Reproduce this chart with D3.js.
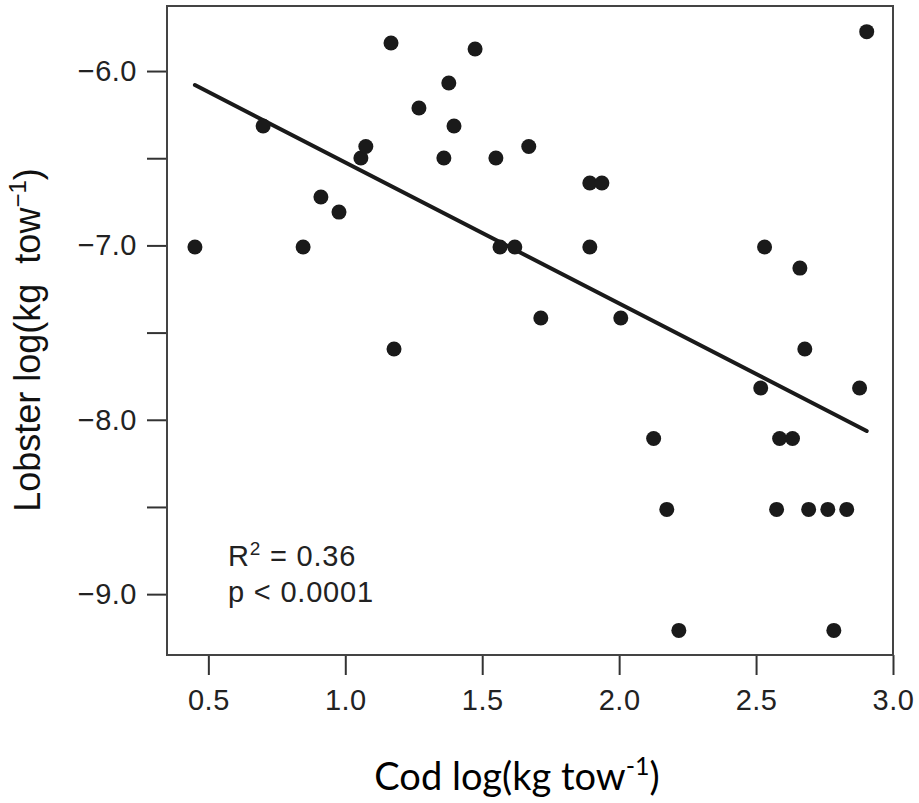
<!DOCTYPE html>
<html>
<head>
<meta charset="utf-8">
<script src="https://cdn.jsdelivr.net/npm/d3@7/dist/d3.min.js"></script>
<style>
  html, body { margin: 0; padding: 0; background: #fff; }
  svg { display: block; }
  .tick text { font-family: "Liberation Sans", Arial, Helvetica, sans-serif; fill: #222; }
</style>
</head>
<body>
<svg id="chart" width="919" height="803"></svg>
<script>
// ---- Data ----
const codLog = [0.451, 0.700, 0.846, 0.911, 0.977, 1.057, 1.075, 1.167, 1.178, 1.269,
                1.360, 1.378, 1.397, 1.474, 1.550, 1.565, 1.619, 1.670, 1.714, 1.893,
                1.893, 1.937, 2.006, 2.126, 2.174, 2.218, 2.517, 2.531, 2.575, 2.586,
                2.633, 2.660, 2.678, 2.692, 2.762, 2.784, 2.831, 2.878, 2.904];
const lobsterLog = [-7.009, -6.315, -7.009, -6.722, -6.809, -6.499, -6.433, -5.839, -7.594, -6.212,
                    -6.499, -6.069, -6.315, -5.874, -6.499, -7.009, -7.009, -6.433, -7.416, -6.642,
                    -7.009, -6.642, -7.416, -8.107, -8.514, -9.208, -7.818, -7.009, -8.514, -8.107,
                    -8.107, -7.130, -7.594, -8.514, -8.514, -9.208, -8.514, -7.818, -5.774];

const fitIntercept = -5.715;
const fitSlope = -0.809;
const fitRange = [0.451, 2.904];

const xTicks = [0.5, 1.0, 1.5, 2.0, 2.5, 3.0];
const yTicks = [-6.0, -6.5, -7.0, -7.5, -8.0, -8.5, -9.0];
const yLabelled = [-6.0, -7.0, -8.0, -9.0];

const statR2 = "0.36";
const statP = "p < 0.0001";

// ---- Layout ----
const svg = d3.select("#chart");
const plot = { left: 167, right: 893, top: 6, bottom: 655 };

const x = d3.scaleLinear().domain([0.349, 3.0]).range([plot.left, plot.right]);
const y = d3.scaleLinear().domain([-9.349, -5.627]).range([plot.bottom, plot.top]);

const fmt = v => (v < 0 ? "\u2212" : "") + Math.abs(v).toFixed(1);

// X axis
const gx = svg.append("g")
  .attr("transform", `translate(0,${plot.bottom})`)
  .call(d3.axisBottom(x).tickValues(xTicks).tickSize(20).tickPadding(14).tickFormat(d => d.toFixed(1)));
gx.select(".domain").remove();
gx.selectAll(".tick line").attr("stroke", "#333").attr("stroke-width", 2);
gx.selectAll(".tick text").attr("font-size", 29).attr("dy", "0.71em").attr("letter-spacing", 0.5);

// Y axis
const gy = svg.append("g")
  .attr("transform", `translate(${plot.left},0)`)
  .call(d3.axisLeft(y).tickValues(yTicks).tickSize(20).tickPadding(10)
        .tickFormat(d => yLabelled.includes(d) ? fmt(d) : ""));
gy.select(".domain").remove();
gy.selectAll(".tick line").attr("stroke", "#333").attr("stroke-width", 2);
gy.selectAll(".tick text").attr("font-size", 29).attr("letter-spacing", 0.5);

// Frame
svg.append("rect")
  .attr("x", plot.left).attr("y", plot.top)
  .attr("width", plot.right - plot.left).attr("height", plot.bottom - plot.top)
  .attr("fill", "none").attr("stroke", "#444").attr("stroke-width", 2);

// Regression line
svg.append("line")
  .attr("x1", x(fitRange[0])).attr("y1", y(fitIntercept + fitSlope * fitRange[0]))
  .attr("x2", x(fitRange[1])).attr("y2", y(fitIntercept + fitSlope * fitRange[1]))
  .attr("stroke", "#1a1a1a").attr("stroke-width", 4).attr("stroke-linecap", "round");

// Points
svg.append("g").selectAll("circle")
  .data(codLog.map((c, i) => [c, lobsterLog[i]]))
  .join("circle")
  .attr("cx", d => x(d[0])).attr("cy", d => y(d[1]))
  .attr("r", 7.5).attr("fill", "#1a1a1a");

// Stats text
const st = svg.append("text")
  .attr("font-family", "'Liberation Sans', Arial, sans-serif")
  .attr("font-size", 29).attr("letter-spacing", 0.8).attr("fill", "#222");
const t1 = st.append("tspan").attr("x", 228).attr("y", 566);
t1.append("tspan").text("R");
t1.append("tspan").attr("font-size", 19).attr("dy", -11).text("2");
t1.append("tspan").attr("dy", 11).text(" = " + statR2);
st.append("tspan").attr("x", 228).attr("y", 602).text(statP);

// Y axis title
const yt = svg.append("text")
  .attr("transform", "translate(40,340) rotate(-90)")
  .attr("text-anchor", "middle")
  .attr("font-family", "'Liberation Sans', Arial, sans-serif")
  .attr("font-size", 36).attr("fill", "#111");
yt.append("tspan").text("Lobster log(kg\u00a0\u00a0tow");
yt.append("tspan").attr("font-size", 24).attr("dy", -14).text("\u22121");
yt.append("tspan").attr("dy", 14).text(")");

// X axis title
const xt = svg.append("text")
  .attr("x", 517).attr("y", 790)
  .attr("text-anchor", "middle")
  .attr("font-family", "Lato, 'Open Sans', sans-serif")
  .attr("font-size", 38).attr("fill", "#000");
xt.append("tspan").text("Cod log(kg tow");
xt.append("tspan").attr("font-size", 25).attr("dy", -15).text("-1");
xt.append("tspan").attr("dy", 15).text(")");
</script>
</body>
</html>
